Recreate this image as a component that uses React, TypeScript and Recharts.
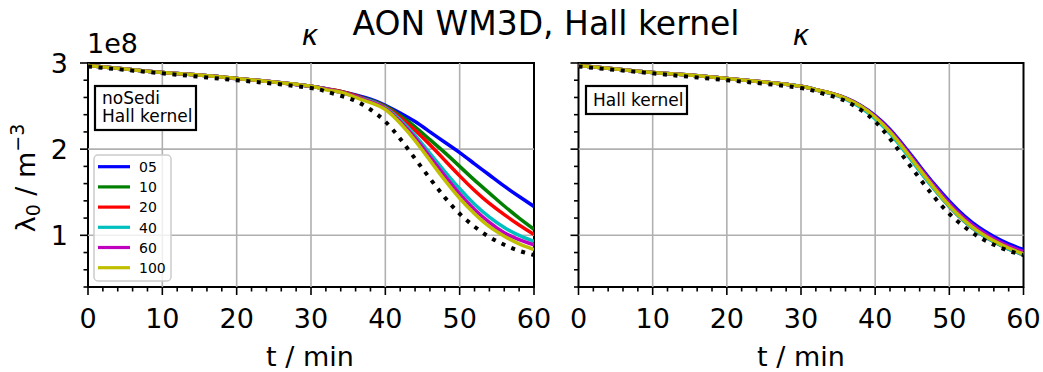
import React from 'react';
import { LineChart, Line, XAxis, YAxis, ReferenceLine, ReferenceArea } from 'recharts';

// ---- data ----
const times = [0, 5, 10, 15, 20, 25, 30, 32, 34, 36, 38, 40, 42, 44, 46, 48, 50, 52, 54, 56, 58, 60];
const seriesNames = ['05', '10', '20', '40', '60', '100'];
const seriesColors = ['#0000ff', '#008000', '#ff0000', '#00bfbf', '#bf00bf', '#bfbf00'];

// left panel: noSedi, Hall kernel (values in 1e8 m^-3)
const left05 = [2.97, 2.93, 2.89, 2.86, 2.82, 2.78, 2.73, 2.70, 2.67, 2.63, 2.58, 2.51, 2.42, 2.32, 2.20, 2.08, 1.96, 1.83, 1.70, 1.57, 1.45, 1.335];
const left10 = [2.97, 2.93, 2.89, 2.86, 2.82, 2.78, 2.73, 2.70, 2.67, 2.62, 2.57, 2.50, 2.39, 2.26, 2.11, 1.96, 1.80, 1.64, 1.49, 1.34, 1.20, 1.07];
const left20 = [2.97, 2.93, 2.89, 2.86, 2.82, 2.78, 2.73, 2.70, 2.67, 2.62, 2.56, 2.49, 2.37, 2.22, 2.05, 1.87, 1.69, 1.52, 1.37, 1.24, 1.12, 1.01];
const left40 = [2.97, 2.93, 2.89, 2.86, 2.82, 2.78, 2.73, 2.70, 2.66, 2.61, 2.56, 2.48, 2.34, 2.16, 1.95, 1.74, 1.54, 1.36, 1.21, 1.09, 1.00, 0.93];
const left60 = [2.97, 2.93, 2.89, 2.86, 2.82, 2.78, 2.73, 2.70, 2.66, 2.61, 2.55, 2.47, 2.32, 2.13, 1.91, 1.69, 1.48, 1.30, 1.15, 1.03, 0.95, 0.89];
const left100 = [2.97, 2.93, 2.89, 2.86, 2.82, 2.78, 2.73, 2.69, 2.66, 2.60, 2.54, 2.46, 2.30, 2.10, 1.87, 1.64, 1.43, 1.25, 1.10, 0.99, 0.90, 0.835];

// right panel: Hall kernel
const right05 = [2.97, 2.93, 2.89, 2.86, 2.82, 2.78, 2.73, 2.69, 2.65, 2.595, 2.51, 2.39, 2.23, 2.025, 1.805, 1.59, 1.395, 1.225, 1.09, 0.985, 0.90, 0.835];
const right10 = [2.97, 2.93, 2.89, 2.86, 2.82, 2.78, 2.73, 2.69, 2.65, 2.59, 2.50, 2.37, 2.20, 1.99, 1.76, 1.54, 1.34, 1.17, 1.035, 0.93, 0.845, 0.78];
const right20 = [2.97, 2.93, 2.89, 2.86, 2.82, 2.78, 2.73, 2.69, 2.65, 2.59, 2.50, 2.365, 2.195, 1.985, 1.755, 1.535, 1.335, 1.165, 1.03, 0.925, 0.84, 0.775];
const right40 = [2.97, 2.93, 2.89, 2.86, 2.82, 2.78, 2.73, 2.69, 2.645, 2.58, 2.485, 2.35, 2.18, 1.97, 1.745, 1.53, 1.335, 1.165, 1.03, 0.925, 0.84, 0.775];
const right60 = [2.97, 2.93, 2.89, 2.86, 2.82, 2.78, 2.73, 2.69, 2.65, 2.59, 2.505, 2.38, 2.215, 2.01, 1.785, 1.57, 1.37, 1.20, 1.065, 0.96, 0.875, 0.81];
const right100 = [2.97, 2.93, 2.89, 2.86, 2.82, 2.78, 2.73, 2.69, 2.65, 2.59, 2.50, 2.37, 2.20, 1.99, 1.765, 1.545, 1.345, 1.175, 1.04, 0.935, 0.85, 0.785];

// reference (dotted black)
const reference = [2.96, 2.92, 2.88, 2.84, 2.80, 2.76, 2.71, 2.67, 2.62, 2.56, 2.46, 2.32, 2.12, 1.89, 1.66, 1.44, 1.25, 1.10, 0.98, 0.89, 0.82, 0.77];

// ticks
const xTicks = [0, 2, 4, 6, 8, 10, 12, 14, 16, 18, 20, 22, 24, 26, 28, 30, 32, 34, 36, 38, 40, 42, 44, 46, 48, 50, 52, 54, 56, 58, 60];
const yTicks = [0.4, 0.6, 0.8, 1.0, 1.2, 1.4, 1.6, 1.8, 2.0, 2.2, 2.4, 2.6, 2.8, 3.0];
const xGrid = [10, 20, 30, 40, 50];
const yGrid = [1, 2];

const FONT = '"DejaVu Sans", sans-serif';
const W = 1043;
const H = 372;

function buildRows(series: number[][]) {
  return times.map((t, i) => {
    const row: Record<string, number> = { t, ref: reference[i] };
    series.forEach((s, k) => {
      row['s' + k] = s[i];
    });
    return row;
  });
}

const leftRows = buildRows([left05, left10, left20, left40, left60, left100]);
const rightRows = buildRows([right05, right10, right20, right40, right60, right100]);

const TICK_OFF = 10; // tickSize + tickMargin

function XTick(props: any) {
  const { x, y, payload } = props;
  const v = payload.value;
  const axisY = y - TICK_OFF;
  const major = v % 10 === 0;
  return (
    <g>
      <line x1={x} x2={x} y1={axisY} y2={axisY + (major ? 8 : 4.5)} stroke="#000" strokeWidth={1.6} />
      {major && (
        <text x={x} y={axisY + 40.5} textAnchor="middle" fontSize={27} fontFamily={FONT} fill="#000">
          {v}
        </text>
      )}
    </g>
  );
}

function YTick(props: any) {
  const { x, y, payload, showLabels } = props;
  const v = payload.value;
  const axisX = x + TICK_OFF;
  const major = Math.abs(v - Math.round(v)) < 1e-6;
  return (
    <g>
      <line x1={axisX} x2={axisX - (major ? 8 : 4.5)} y1={y} y2={y} stroke="#000" strokeWidth={1.6} />
      {major && showLabels && (
        <text x={axisX - 20} y={y + 9.5} textAnchor="end" fontSize={27} fontFamily={FONT} fill="#000">
          {Math.round(v)}
        </text>
      )}
    </g>
  );
}

function Panel({ rows, plotLeft, plotRight, showLabels }: { rows: any[]; plotLeft: number; plotRight: number; showLabels: boolean }) {
  const top = 63;
  const bottom = 287;
  const yAxisW = 60;
  const xAxisH = 50;
  return (
    <div style={{ position: 'absolute', left: 0, top: 0, width: W, height: H }}>
      <LineChart
        width={W}
        height={H}
        data={rows}
        margin={{ top, right: W - plotRight, bottom: H - bottom - xAxisH, left: plotLeft - yAxisW }}
      >
        <XAxis
          dataKey="t"
          type="number"
          domain={[0, 60]}
          ticks={xTicks}
          interval={0}
          tick={<XTick />}
          tickLine={false}
          axisLine={false}
          tickSize={8}
          tickMargin={2}
          height={xAxisH}
          allowDataOverflow
        />
        <YAxis
          type="number"
          domain={[0.4, 3]}
          ticks={yTicks}
          interval={0}
          tick={<YTick showLabels={showLabels} />}
          tickLine={false}
          axisLine={false}
          tickSize={8}
          tickMargin={2}
          width={yAxisW}
          allowDataOverflow
        />
        {xGrid.map((v) => (
          <ReferenceLine key={'gx' + v} x={v} stroke="#b0b0b0" strokeWidth={1.6} />
        ))}
        {yGrid.map((v) => (
          <ReferenceLine key={'gy' + v} y={v} stroke="#b0b0b0" strokeWidth={1.6} />
        ))}
        {seriesNames.map((name, k) => (
          <Line
            key={name}
            type="natural"
            dataKey={'s' + k}
            stroke={seriesColors[k]}
            strokeWidth={3.5}
            dot={false}
            isAnimationActive={false}
          />
        ))}
        <Line
          type="natural"
          dataKey="ref"
          stroke="#000"
          strokeWidth={4}
          strokeDasharray="4 6.6"
          dot={false}
          isAnimationActive={false}
        />
        <ReferenceArea x1={0} x2={60} y1={0.4} y2={3} fill="none" stroke="#000" strokeWidth={2} />
      </LineChart>
    </div>
  );
}

function Overlay() {
  const legendY0 = 166.7;
  const legendStep = 20.2;
  return (
    <svg
      width={W}
      height={H}
      style={{ position: 'absolute', left: 0, top: 0, pointerEvents: 'none' }}
      fontFamily={FONT}
    >
      <text x={546} y={34.5} textAnchor="middle" fontSize={33} fill="#000">
        AON WM3D, Hall kernel
      </text>
      <text x={310} y={45} textAnchor="middle" fontSize={28} fontStyle="italic" fill="#000">
        κ
      </text>
      <text x={801} y={45} textAnchor="middle" fontSize={28} fontStyle="italic" fill="#000">
        κ
      </text>
      <text x={87} y={53} textAnchor="start" fontSize={27} fill="#000">
        1e8
      </text>
      <text transform="translate(34.5,178) rotate(-90)" textAnchor="middle" fontSize={27} fill="#000">
        λ<tspan fontSize={19} dy={5}>0</tspan>
        <tspan dy={-5}> / m</tspan>
        <tspan fontSize={19} dy={-11}>−3</tspan>
      </text>
      <text x={310} y={365.7} textAnchor="middle" fontSize={27} fill="#000">
        t / min
      </text>
      <text x={801} y={365.7} textAnchor="middle" fontSize={27} fill="#000">
        t / min
      </text>

      {/* text boxes */}
      <rect x={95} y={86} width={101} height={44} fill="#fff" stroke="#000" strokeWidth={2.2} />
      <text x={102} y={103.5} fontSize={17} fill="#000">noSedi</text>
      <text x={102} y={121.7} fontSize={17} fill="#000">Hall kernel</text>
      <rect x={586} y={86} width={101} height={28} fill="#fff" stroke="#000" strokeWidth={2.2} />
      <text x={593} y={105.5} fontSize={17} fill="#000">Hall kernel</text>

      {/* legend */}
      <rect x={94} y={155} width={77} height={126} rx={4} fill="#fff" fillOpacity={0.8} stroke="#cccccc" strokeWidth={1.5} />
      {seriesNames.map((name, k) => (
        <g key={name}>
          <line
            x1={98}
            x2={130}
            y1={legendY0 + k * legendStep}
            y2={legendY0 + k * legendStep}
            stroke={seriesColors[k]}
            strokeWidth={3.2}
          />
          <text x={139} y={legendY0 + k * legendStep + 5.3} fontSize={14} fill="#000">
            {name}
          </text>
        </g>
      ))}
    </svg>
  );
}

export default function App() {
  return (
    <div style={{ position: 'absolute', left: 0, top: 0, width: W, height: H, background: '#fff' }}>
      <Panel rows={leftRows} plotLeft={88} plotRight={534} showLabels={true} />
      <Panel rows={rightRows} plotLeft={578.5} plotRight={1023.5} showLabels={false} />
      <Overlay />
    </div>
  );
}
